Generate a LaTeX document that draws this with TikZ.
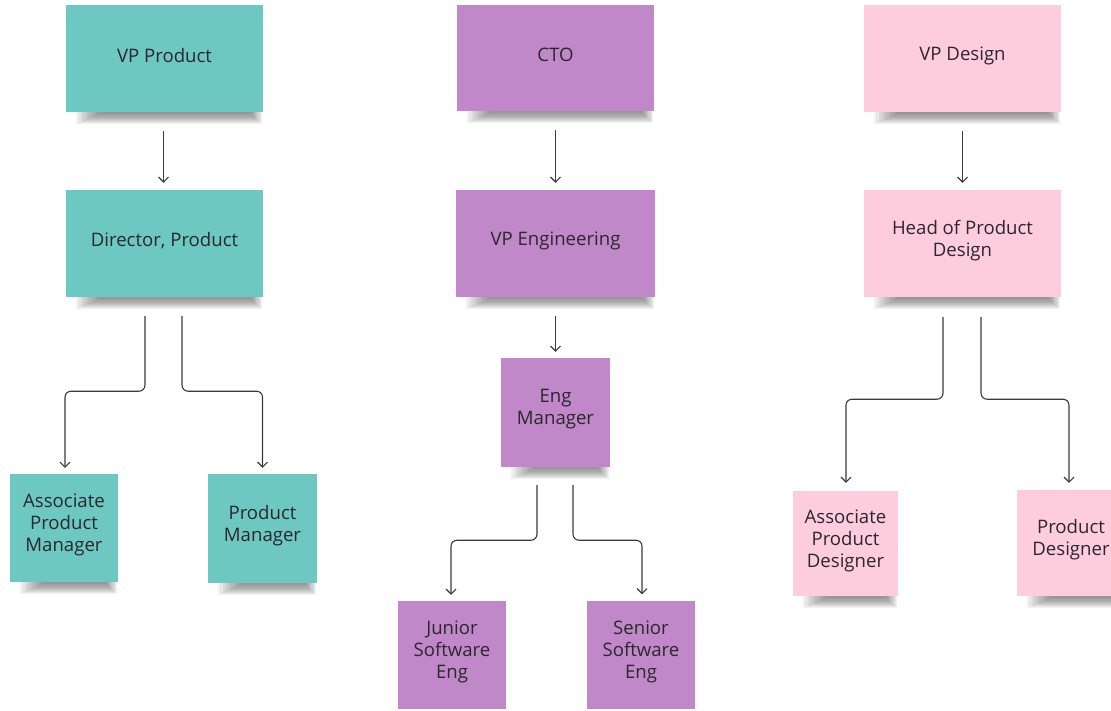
\documentclass[tikz,border=0pt]{standalone}
\usepackage{fontspec}
\setmainfont{Open Sans}
\usetikzlibrary{arrows.meta,calc,backgrounds}
\definecolor{tealnote}{HTML}{6CC8C1}
\definecolor{purplenote}{HTML}{C088C8}
\definecolor{pinknote}{HTML}{FDCDDD}
\definecolor{inkc}{HTML}{2B272D}
\definecolor{linec}{HTML}{3A3A3A}
\tikzset{
  note/.style={rectangle, inner sep=0pt},
  notetext/.style={align=center, text=inkc, inner sep=0pt, yshift=3pt,
    font=\fontsize{18.6}{22}\selectfont},
  conn/.style={draw=linec, line width=1.1pt, rounded corners=6,
    -{Straight Barb[length=5pt,width=10pt,line width=1.1pt]}},
}
\newcommand{\notesh}[1]{%
  \begin{scope}[on background layer]
    \foreach \i in {0,...,9}{
      \fill[black, opacity=0.05]
        ($(#1.south west)+(10+2.5*\i,-2)$) rectangle ($(#1.south east)+(-1-1.2*\i,12-1.1*\i)$);
    }
  \end{scope}}
\begin{document}
\begin{tikzpicture}[x=1pt,y=-1pt]
\useasboundingbox (0,0) rectangle (1111,710);
\clip (0,0) rectangle (1111,710);
% left column
\node[note, fill=tealnote, minimum width=197, minimum height=107,
  label={[notetext, name=vppt]center:VP Product}] (vpp) at (164.5,58.5) {};
\node[note, fill=tealnote, minimum width=197, minimum height=107,
  label={[notetext, name=dirt]center:Director, Product}] (dir) at (164.5,243.5) {};
\node[note, fill=tealnote, minimum width=108, minimum height=108,
  label={[notetext, name=apmt]center:Associate\\Product\\Manager}] (apm) at (64,528) {};
\node[note, fill=tealnote, minimum width=109, minimum height=109,
  label={[notetext, name=pmt]center:Product\\Manager}] (pm) at (262.5,528.5) {};
% middle column
\node[note, fill=purplenote, minimum width=197, minimum height=106,
  label={[notetext, name=ctot]center:CTO}] (cto) at (555.5,58) {};
\node[note, fill=purplenote, minimum width=199, minimum height=107,
  label={[notetext, name=vpet]center:VP Engineering}] (vpe) at (555.5,243.5) {};
\node[note, fill=purplenote, minimum width=109, minimum height=109,
  label={[notetext, name=emt]center:Eng\\Manager}] (em) at (555.5,412.5) {};
\node[note, fill=purplenote, minimum width=108, minimum height=108,
  label={[notetext, name=jset]center:Junior\\Software\\Eng}] (jse) at (452,655) {};
\node[note, fill=purplenote, minimum width=108, minimum height=108,
  label={[notetext, name=sset]center:Senior\\Software\\Eng}] (sse) at (641,654.5) {};
% right column
\node[note, fill=pinknote, minimum width=197, minimum height=107,
  label={[notetext, name=vpdt]center:VP Design}] (vpd) at (962.5,58.5) {};
\node[note, fill=pinknote, minimum width=197, minimum height=107,
  label={[notetext, name=hpdt]center:Head of Product\\Design}] (hpd) at (962.5,243.5) {};
\node[note, fill=pinknote, minimum width=105, minimum height=105,
  label={[notetext, name=apdt]center:Associate\\Product\\Designer}] (apd) at (845.5,543.5) {};
\node[note, fill=pinknote, minimum width=108, minimum height=106,
  label={[notetext, name=pdt]center:Product\\Designer}] (pd) at (1071,543) {};
% shadows
\foreach \n in {vpp,dir,apm,pm,cto,vpe,em,vpd,hpd,apd,pd}{\notesh{\n}}
% connectors
\draw[conn] ($(vpp.south)+(-1,19)$) -- ($(dir.north)+(-1,-7)$);
\draw[conn] ($(cto.south)+(0,19)$) -- ($(vpe.north)+(0,-7)$);
\draw[conn] ($(vpd.south)+(0,19)$) -- ($(hpd.north)+(0,-7)$);
\draw[conn] ($(vpe.south)+(0,19)$) -- ($(em.north)+(0,-6)$);
\draw[conn] ($(dir.south)+(-19.5,19)$) -- ($(dir.south)+(-19.5,94)$) -| ($(apm.north)+(1,-6)$);
\draw[conn] ($(dir.south)+(17.5,19)$) -- ($(dir.south)+(17.5,94)$) -| ($(pm.north)+(0,-6)$);
\draw[conn] ($(em.south)+(-18.5,18)$) -- ($(em.south)+(-18.5,73)$) -| ($(jse.north)+(-1,-6)$);
\draw[conn] ($(em.south)+(17.5,18)$) -- ($(em.south)+(17.5,73)$) -| ($(sse.north)+(1,-6)$);
\draw[conn] ($(hpd.south)+(-19.5,20)$) -- ($(hpd.south)+(-19.5,102)$) -| ($(apd.north)+(0.5,-8)$);
\draw[conn] ($(hpd.south)+(18.5,20)$) -- ($(hpd.south)+(18.5,102)$) -| ($(pd.north)+(-2,-7)$);
\end{tikzpicture}
\end{document}
